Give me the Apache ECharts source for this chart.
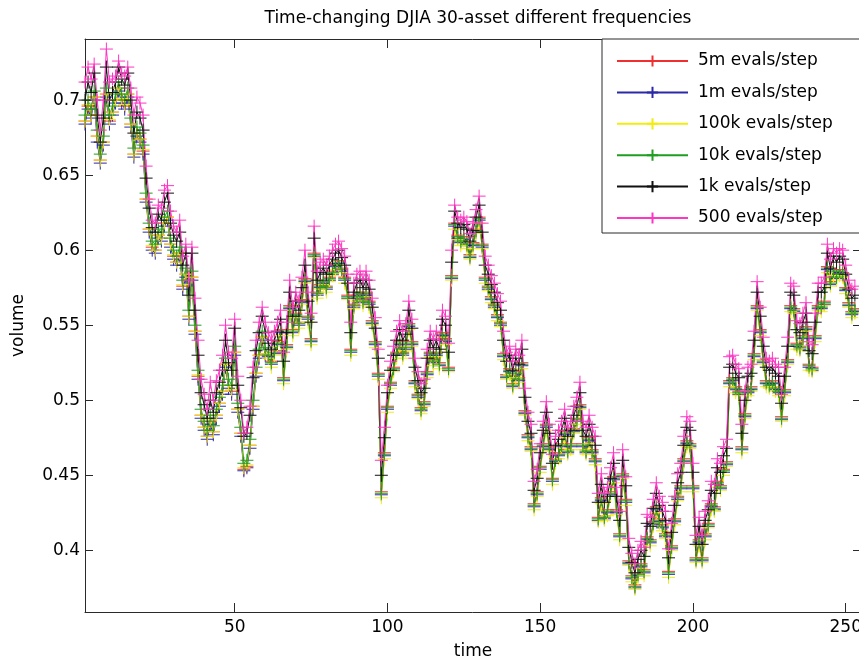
<!DOCTYPE html>
<html>
<head>
<meta charset="utf-8">
<script src="https://cdn.jsdelivr.net/npm/echarts@6/dist/echarts.min.js"></script>
<style>
  html, body { margin: 0; padding: 0; background: #fff; }
  #chart { width: 859px; height: 662px; }
</style>
</head>
<body>
<div id="chart"></div>
<script>
// Portfolio volume per time step, DJIA 30 assets, for six evaluation budgets
const seriesNames = ['5m evals/step', '1m evals/step', '100k evals/step', '10k evals/step', '1k evals/step', '500 evals/step'];
const seriesColors = ['#f03030', '#2a2aa8', '#f2ec10', '#1f9e1f', '#111111', '#ff35c4'];

const xTicks = [50, 100, 150, 200, 250];
const yTicks = [0.4, 0.45, 0.5, 0.55, 0.6, 0.65, 0.7];

const evals5m = [
0.686,0.696,0.690,0.702,0.676,0.660,0.672,0.704,0.686,0.692,
0.700,0.708,0.700,0.696,0.704,0.684,0.664,0.678,0.674,0.666,
0.634,0.614,0.602,0.600,0.610,0.608,0.618,0.622,0.604,0.596,
0.592,0.598,0.576,0.584,0.556,0.582,0.546,0.516,0.490,0.482,
0.476,0.486,0.479,0.490,0.498,0.506,0.524,0.510,0.506,0.532,
0.494,0.478,0.454,0.456,0.470,0.496,0.518,0.530,0.542,0.531,
0.531,0.526,0.533,0.539,0.547,0.515,0.537,0.563,0.547,0.558,
0.552,0.567,0.581,0.556,0.541,0.598,0.572,0.577,0.580,0.576,
0.582,0.586,0.591,0.593,0.588,0.582,0.570,0.534,0.564,0.570,
0.572,0.567,0.572,0.566,0.553,0.539,0.518,0.439,0.465,0.496,
0.512,0.522,0.532,0.539,0.532,0.536,0.551,0.539,0.513,0.504,
0.495,0.499,0.519,0.532,0.527,0.532,0.525,0.545,0.541,0.522,
0.583,0.618,0.610,0.607,0.609,0.605,0.597,0.605,0.614,0.622,
0.604,0.582,0.576,0.569,0.564,0.557,0.552,0.531,0.517,0.521,
0.511,0.519,0.515,0.525,0.493,0.477,0.469,0.431,0.439,0.456,
0.471,0.484,0.469,0.448,0.461,0.465,0.471,0.479,0.467,0.471,
0.481,0.488,0.497,0.471,0.467,0.475,0.467,0.461,0.422,0.435,
0.423,0.427,0.439,0.449,0.427,0.411,0.451,0.434,0.393,0.383,
0.377,0.385,0.391,0.387,0.409,0.407,0.419,0.429,0.421,0.417,
0.411,0.386,0.403,0.421,0.436,0.443,0.461,0.473,0.471,0.443,
0.395,0.407,0.395,0.411,0.418,0.431,0.429,0.446,0.443,0.454,
0.459,0.513,0.515,0.509,0.506,0.469,0.491,0.507,0.509,0.531,
0.563,0.547,0.527,0.513,0.511,0.513,0.509,0.507,0.489,0.507,
0.527,0.563,0.561,0.538,0.536,0.543,0.549,0.524,0.522,0.543,
0.563,0.563,0.566,0.589,0.579,0.587,0.583,0.587,0.585,0.575,
0.565,0.559,0.561
];

const evals1m = [
0.684,0.694,0.688,0.700,0.672,0.658,0.670,0.702,0.684,0.690,
0.698,0.706,0.698,0.694,0.702,0.682,0.662,0.676,0.672,0.664,
0.632,0.612,0.600,0.598,0.608,0.606,0.616,0.620,0.602,0.594,
0.590,0.596,0.574,0.582,0.554,0.580,0.544,0.514,0.488,0.480,
0.474,0.484,0.477,0.488,0.496,0.504,0.522,0.508,0.504,0.530,
0.492,0.476,0.453,0.455,0.468,0.494,0.516,0.528,0.540,0.530,
0.529,0.524,0.531,0.537,0.545,0.513,0.535,0.561,0.545,0.556,
0.550,0.565,0.579,0.554,0.539,0.596,0.570,0.575,0.578,0.574,
0.580,0.584,0.589,0.591,0.586,0.580,0.568,0.532,0.562,0.568,
0.570,0.565,0.570,0.564,0.551,0.537,0.516,0.437,0.463,0.494,
0.510,0.520,0.530,0.537,0.530,0.534,0.549,0.537,0.511,0.502,
0.493,0.497,0.517,0.530,0.525,0.530,0.523,0.543,0.539,0.520,
0.581,0.616,0.608,0.605,0.607,0.603,0.595,0.603,0.612,0.620,
0.602,0.580,0.574,0.567,0.562,0.555,0.550,0.529,0.515,0.519,
0.509,0.517,0.513,0.523,0.491,0.475,0.467,0.429,0.437,0.454,
0.469,0.482,0.467,0.446,0.459,0.463,0.469,0.477,0.465,0.469,
0.479,0.486,0.495,0.469,0.465,0.473,0.465,0.459,0.420,0.433,
0.421,0.425,0.437,0.447,0.425,0.409,0.449,0.432,0.391,0.381,
0.375,0.383,0.389,0.385,0.407,0.405,0.417,0.427,0.419,0.415,
0.409,0.384,0.401,0.419,0.434,0.441,0.459,0.471,0.469,0.441,
0.393,0.405,0.393,0.409,0.416,0.429,0.427,0.444,0.441,0.452,
0.457,0.511,0.513,0.507,0.504,0.467,0.489,0.505,0.507,0.529,
0.561,0.545,0.525,0.511,0.509,0.511,0.507,0.505,0.487,0.505,
0.525,0.561,0.559,0.536,0.534,0.541,0.547,0.522,0.520,0.541,
0.561,0.561,0.564,0.587,0.577,0.585,0.581,0.585,0.583,0.573,
0.563,0.557,0.559
];

const evals100k = [
0.686,0.697,0.690,0.702,0.676,0.660,0.672,0.704,0.687,0.692,
0.700,0.708,0.701,0.697,0.704,0.684,0.664,0.678,0.674,0.667,
0.634,0.614,0.603,0.600,0.610,0.608,0.618,0.622,0.604,0.597,
0.592,0.598,0.577,0.584,0.556,0.582,0.546,0.517,0.490,0.482,
0.476,0.487,0.479,0.490,0.498,0.506,0.524,0.510,0.507,0.532,
0.494,0.478,0.455,0.457,0.470,0.496,0.518,0.530,0.542,0.531,
0.528,0.522,0.530,0.536,0.543,0.511,0.534,0.560,0.543,0.555,
0.548,0.564,0.578,0.552,0.537,0.595,0.568,0.574,0.577,0.572,
0.579,0.583,0.587,0.590,0.585,0.578,0.567,0.530,0.561,0.566,
0.569,0.563,0.569,0.562,0.550,0.535,0.514,0.435,0.461,0.492,
0.508,0.519,0.528,0.536,0.528,0.533,0.547,0.536,0.509,0.501,
0.491,0.496,0.515,0.529,0.523,0.529,0.521,0.542,0.537,0.519,
0.580,0.614,0.607,0.603,0.606,0.601,0.594,0.601,0.611,0.618,
0.601,0.578,0.573,0.565,0.561,0.553,0.549,0.527,0.514,0.517,
0.508,0.515,0.512,0.521,0.490,0.473,0.466,0.427,0.436,0.452,
0.468,0.480,0.466,0.444,0.458,0.461,0.468,0.475,0.464,0.467,
0.478,0.484,0.494,0.467,0.464,0.471,0.464,0.457,0.419,0.431,
0.420,0.423,0.436,0.445,0.424,0.407,0.448,0.430,0.390,0.379,
0.374,0.381,0.388,0.383,0.406,0.403,0.416,0.425,0.418,0.413,
0.408,0.382,0.400,0.417,0.433,0.439,0.458,0.469,0.468,0.439,
0.392,0.403,0.392,0.407,0.415,0.427,0.426,0.442,0.440,0.450,
0.456,0.509,0.512,0.505,0.503,0.465,0.488,0.503,0.506,0.527,
0.560,0.543,0.524,0.509,0.508,0.509,0.506,0.503,0.486,0.503,
0.524,0.559,0.558,0.534,0.533,0.539,0.546,0.520,0.519,0.539,
0.560,0.559,0.563,0.585,0.576,0.583,0.580,0.583,0.582,0.571,
0.562,0.555,0.558
];

const evals10k = [
0.690,0.700,0.694,0.706,0.680,0.664,0.676,0.708,0.690,0.696,
0.704,0.712,0.704,0.700,0.708,0.688,0.668,0.682,0.678,0.670,
0.638,0.618,0.606,0.604,0.614,0.612,0.622,0.626,0.608,0.600,
0.596,0.602,0.580,0.588,0.560,0.586,0.550,0.520,0.494,0.486,
0.480,0.490,0.483,0.494,0.502,0.510,0.528,0.514,0.510,0.536,
0.498,0.482,0.458,0.460,0.474,0.500,0.522,0.534,0.546,0.535,
0.530,0.525,0.532,0.538,0.546,0.514,0.536,0.562,0.546,0.557,
0.551,0.566,0.580,0.555,0.540,0.597,0.571,0.576,0.579,0.575,
0.581,0.585,0.590,0.592,0.587,0.581,0.569,0.533,0.563,0.569,
0.571,0.566,0.571,0.565,0.552,0.538,0.517,0.438,0.464,0.495,
0.511,0.521,0.531,0.538,0.531,0.535,0.550,0.538,0.512,0.503,
0.494,0.498,0.518,0.531,0.526,0.531,0.524,0.544,0.540,0.521,
0.582,0.617,0.609,0.606,0.608,0.604,0.596,0.604,0.613,0.621,
0.603,0.581,0.575,0.568,0.563,0.556,0.551,0.530,0.516,0.520,
0.510,0.518,0.514,0.524,0.492,0.476,0.468,0.430,0.438,0.455,
0.470,0.483,0.468,0.447,0.460,0.464,0.470,0.478,0.466,0.470,
0.480,0.487,0.496,0.470,0.466,0.474,0.466,0.460,0.421,0.434,
0.422,0.426,0.438,0.448,0.426,0.410,0.450,0.433,0.392,0.382,
0.376,0.384,0.390,0.386,0.408,0.406,0.418,0.428,0.420,0.416,
0.410,0.385,0.402,0.420,0.435,0.442,0.460,0.472,0.470,0.442,
0.394,0.406,0.394,0.410,0.417,0.430,0.428,0.445,0.442,0.453,
0.458,0.512,0.514,0.508,0.505,0.468,0.490,0.506,0.508,0.530,
0.562,0.546,0.526,0.512,0.510,0.512,0.508,0.506,0.488,0.506,
0.526,0.562,0.560,0.537,0.535,0.542,0.548,0.523,0.521,0.542,
0.562,0.562,0.565,0.588,0.578,0.586,0.582,0.586,0.584,0.574,
0.564,0.558,0.560
];

const evals1k = [
0.700,0.712,0.705,0.718,0.690,0.672,0.688,0.722,0.700,0.705,
0.712,0.722,0.714,0.710,0.718,0.700,0.678,0.692,0.688,0.680,
0.648,0.628,0.615,0.612,0.624,0.620,0.632,0.638,0.618,0.610,
0.606,0.612,0.590,0.598,0.570,0.598,0.560,0.530,0.505,0.497,
0.488,0.500,0.492,0.505,0.512,0.520,0.540,0.525,0.520,0.548,
0.510,0.495,0.476,0.478,0.490,0.515,0.533,0.545,0.556,0.545,
0.538,0.534,0.540,0.546,0.554,0.526,0.545,0.572,0.556,0.566,
0.560,0.575,0.590,0.566,0.552,0.608,0.580,0.585,0.588,0.584,
0.590,0.594,0.598,0.600,0.595,0.590,0.578,0.545,0.572,0.578,
0.580,0.575,0.580,0.574,0.562,0.548,0.528,0.450,0.475,0.505,
0.520,0.530,0.540,0.547,0.540,0.544,0.560,0.548,0.522,0.513,
0.505,0.508,0.528,0.540,0.535,0.540,0.534,0.554,0.550,0.532,
0.592,0.626,0.618,0.615,0.617,0.614,0.606,0.613,0.622,0.630,
0.612,0.590,0.584,0.577,0.572,0.565,0.560,0.540,0.526,0.530,
0.520,0.528,0.524,0.534,0.502,0.486,0.478,0.440,0.448,0.465,
0.480,0.492,0.478,0.458,0.470,0.474,0.480,0.488,0.476,0.480,
0.490,0.496,0.505,0.480,0.476,0.484,0.476,0.470,0.432,0.444,
0.432,0.436,0.448,0.458,0.436,0.420,0.460,0.443,0.402,0.392,
0.385,0.394,0.400,0.396,0.418,0.416,0.428,0.438,0.430,0.426,
0.420,0.395,0.412,0.430,0.445,0.452,0.470,0.482,0.480,0.452,
0.404,0.416,0.404,0.420,0.427,0.440,0.438,0.455,0.452,0.463,
0.468,0.522,0.524,0.518,0.515,0.478,0.500,0.516,0.518,0.540,
0.572,0.556,0.536,0.522,0.520,0.522,0.518,0.516,0.498,0.516,
0.536,0.572,0.570,0.547,0.545,0.552,0.558,0.533,0.531,0.552,
0.572,0.572,0.575,0.598,0.588,0.596,0.592,0.596,0.594,0.584,
0.574,0.568,0.570
];

const evals500 = [
0.712,0.722,0.714,0.724,0.700,0.680,0.700,0.734,0.712,0.714,
0.716,0.726,0.718,0.716,0.722,0.708,0.690,0.702,0.698,0.690,
0.656,0.634,0.620,0.618,0.630,0.628,0.640,0.643,0.626,0.616,
0.612,0.620,0.596,0.604,0.580,0.602,0.568,0.540,0.514,0.504,
0.494,0.512,0.500,0.513,0.520,0.530,0.550,0.532,0.528,0.554,
0.516,0.500,0.478,0.482,0.496,0.522,0.540,0.552,0.562,0.552,
0.545,0.540,0.546,0.552,0.560,0.532,0.552,0.580,0.562,0.572,
0.566,0.582,0.600,0.572,0.558,0.616,0.586,0.592,0.594,0.590,
0.596,0.600,0.604,0.606,0.601,0.596,0.584,0.552,0.578,0.584,
0.586,0.581,0.586,0.580,0.568,0.555,0.534,0.460,0.482,0.510,
0.526,0.536,0.546,0.553,0.546,0.551,0.566,0.554,0.528,0.519,
0.511,0.514,0.534,0.546,0.541,0.546,0.540,0.560,0.556,0.538,
0.600,0.630,0.622,0.620,0.622,0.619,0.611,0.618,0.627,0.636,
0.618,0.596,0.590,0.583,0.578,0.571,0.566,0.546,0.532,0.536,
0.526,0.534,0.530,0.540,0.508,0.492,0.484,0.446,0.454,0.471,
0.486,0.499,0.484,0.464,0.476,0.480,0.486,0.494,0.482,0.486,
0.496,0.502,0.512,0.486,0.482,0.490,0.482,0.476,0.438,0.451,
0.438,0.442,0.455,0.465,0.442,0.426,0.467,0.449,0.408,0.398,
0.391,0.400,0.406,0.402,0.424,0.422,0.434,0.445,0.436,0.432,
0.426,0.401,0.418,0.436,0.451,0.458,0.476,0.489,0.486,0.458,
0.410,0.422,0.410,0.426,0.433,0.446,0.444,0.461,0.458,0.469,
0.474,0.529,0.530,0.524,0.521,0.484,0.506,0.522,0.524,0.546,
0.579,0.562,0.542,0.528,0.526,0.528,0.524,0.522,0.504,0.522,
0.542,0.578,0.576,0.553,0.551,0.558,0.565,0.539,0.537,0.558,
0.578,0.578,0.582,0.604,0.594,0.601,0.598,0.601,0.600,0.590,
0.580,0.574,0.576
];

const seriesValues = [evals5m, evals1m, evals100k, evals10k, evals1k, evals500];
// time steps 1..N
const timeSteps = evals1k.map((_, i) => i + 1);

const FONT = 'DejaVu Sans';
const PLUS = 'path://M0,6L12,6M6,0L6,12';

const chart = echarts.init(document.getElementById('chart'), null, { renderer: 'canvas' });

const axisLineStyle = { color: '#2a2a2a', width: 1 };

const series = seriesNames.map((name, k) => ({
  name: name,
  type: 'line',
  xAxisIndex: 0,
  yAxisIndex: 0,
  data: timeSteps.map((t, i) => [t, seriesValues[k][i]]),
  symbol: PLUS,
  symbolSize: 13,
  showSymbol: true,
  showAllSymbol: true,
  animation: false,
  lineStyle: { color: seriesColors[k], width: 1 },
  itemStyle: { color: seriesColors[k], borderColor: seriesColors[k], borderWidth: 1 },
  emphasis: { disabled: true }
}));

const option = {
  backgroundColor: '#ffffff',
  animation: false,
  title: {
    text: 'Time-changing DJIA 30-asset different frequencies',
    left: 473,
    top: 5,
    textAlign: 'center',
    textStyle: { fontFamily: FONT, fontSize: 17, fontWeight: 'normal', color: '#000' }
  },
  grid: { left: 85, top: 39, width: 776, height: 573, containLabel: false, outerBoundsMode: 'none' },
  legend: {
    data: seriesNames,
    orient: 'vertical',
    left: 602,
    top: 39,
    padding: [12, 60, 5, 14],
    itemWidth: 71,
    itemHeight: 14,
    itemGap: 11.4,
    backgroundColor: '#ffffff',
    borderColor: '#2a2a2a',
    borderWidth: 1,
    borderRadius: 0,
    selectedMode: false,
    textStyle: { fontFamily: FONT, fontSize: 17, lineHeight: 20, color: '#000', padding: [0, 0, 0, 5] }
  },
  xAxis: [
    {
      type: 'value', position: 'bottom', min: 1, max: 255,
      name: 'time', nameLocation: 'middle', nameGap: 31,
      nameTextStyle: { fontFamily: FONT, fontSize: 17, color: '#000' },
      axisLine: { show: true, lineStyle: axisLineStyle },
      axisTick: { show: true, inside: true, length: 9, lineStyle: axisLineStyle, customValues: xTicks },
      axisLabel: { show: true, margin: 7, fontFamily: FONT, fontSize: 17, color: '#000', customValues: xTicks },
      splitLine: { show: false }
    },
    {
      type: 'value', position: 'top', min: 1, max: 255, gridIndex: 0,
      axisLine: { show: true, onZero: false, lineStyle: axisLineStyle },
      axisTick: { show: true, inside: true, length: 9, lineStyle: axisLineStyle, customValues: xTicks },
      axisLabel: { show: false },
      splitLine: { show: false }
    }
  ],
  yAxis: [
    {
      type: 'value', position: 'left', min: 0.3589, max: 0.7407,
      name: 'volume', nameLocation: 'middle', nameGap: 58, nameRotate: 90,
      nameTextStyle: { fontFamily: FONT, fontSize: 17, color: '#000' },
      axisLine: { show: true, lineStyle: axisLineStyle },
      axisTick: { show: true, inside: true, length: 8, lineStyle: axisLineStyle, customValues: yTicks },
      axisLabel: { show: true, margin: 5, fontFamily: FONT, fontSize: 17, color: '#000', customValues: yTicks },
      splitLine: { show: false }
    },
    {
      type: 'value', position: 'right', min: 0.3589, max: 0.7407, gridIndex: 0,
      axisLine: { show: true, onZero: false, lineStyle: axisLineStyle },
      axisTick: { show: true, inside: true, length: 8, lineStyle: axisLineStyle, customValues: yTicks },
      axisLabel: { show: false },
      splitLine: { show: false }
    }
  ],
  series: series
};

chart.setOption(option);
</script>
</body>
</html>
